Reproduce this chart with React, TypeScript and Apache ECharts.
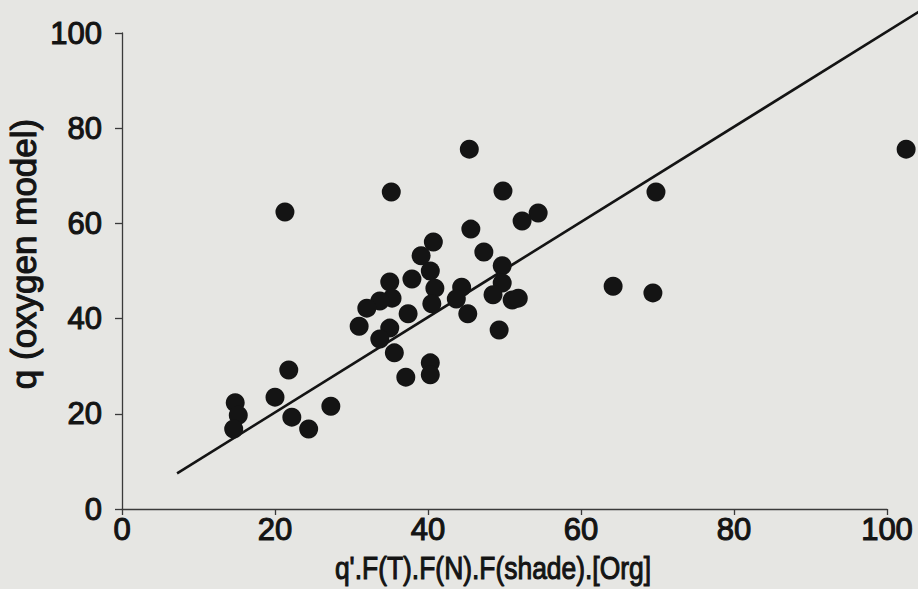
import React, { useEffect, useRef } from "react";
import * as echarts from "echarts";

// Observed points: x = q'.F(T).F(N).F(shade).[Org], y = q (oxygen model)
const xValues = [
  14.8, 15.2, 14.6, 20.0, 21.8, 22.2, 24.4, 27.3, 21.3, 45.4,
  35.2, 49.8, 54.4, 52.3, 45.6, 40.7, 47.3, 39.1, 49.7, 40.3,
  37.9, 35.0, 40.9, 44.4, 49.7, 35.3, 33.7, 32.0, 43.7, 48.5,
  40.5, 51.0, 51.8, 37.4, 45.2, 31.0, 35.0, 33.7, 49.3, 35.6,
  40.3, 40.3, 37.1, 64.2, 69.8, 69.4, 102.5,
];
const yValues = [
  22.3, 19.7, 16.8, 23.5, 29.2, 19.3, 16.8, 21.6, 62.4, 75.6,
  66.6, 66.8, 62.2, 60.5, 58.8, 56.1, 54.0, 53.2, 51.1, 50.0,
  48.3, 47.7, 46.4, 46.6, 47.5, 44.3, 43.7, 42.2, 44.1, 45.0,
  43.1, 43.9, 44.3, 41.0, 41.0, 38.4, 38.0, 35.7, 37.6, 32.8,
  30.7, 28.2, 27.7, 46.8, 66.6, 45.4, 75.6,
];

// Fitted line endpoints
const lineX = [7.2, 104.8];
const lineY = [7.5, 105.1];

const xTicks = [0, 20, 40, 60, 80, 100];
const yTicks = [0, 20, 40, 60, 80, 100];

const xTitle = "q'.F(T).F(N).F(shade).[Org]";
const yTitle = "q (oxygen model)";

export default function App() {
  const ref = useRef<HTMLDivElement>(null);

  useEffect(() => {
    document.body.style.margin = "0";
    document.body.style.background = "#e6e6e3";
    if (!ref.current) return;
    const chart = echarts.init(ref.current, undefined, { renderer: "svg" });

    const points = xValues.map((x, i) => [x, yValues[i]]);
    const ink = "#141414";
    const axisColor = "#3a3a3a";
    const font = "Liberation Sans, Arial, Helvetica, sans-serif";

    const labelStyle = {
      color: ink,
      fontSize: 31,
      fontFamily: font,
      textBorderColor: ink,
      textBorderWidth: 1.1,
    };

    chart.setOption({
      animation: false,
      backgroundColor: "#e6e6e3",
      grid: { left: 122, right: 31, top: 33, bottom: 80, containLabel: false },
      xAxis: {
        type: "value",
        min: xTicks[0],
        max: xTicks[xTicks.length - 1],
        interval: 20,
        axisLine: { show: true, onZero: false, lineStyle: { color: axisColor, width: 1.3 } },
        axisTick: { show: true, length: 6, inside: false, lineStyle: { color: axisColor, width: 1.3 } },
        splitLine: { show: false },
        axisLabel: { margin: 5, ...labelStyle },
      },
      yAxis: {
        type: "value",
        min: yTicks[0],
        max: yTicks[yTicks.length - 1],
        interval: 20,
        axisLine: { show: true, onZero: false, lineStyle: { color: axisColor, width: 1.3 } },
        axisTick: { show: true, length: 7, inside: false, lineStyle: { color: axisColor, width: 1.3 } },
        splitLine: { show: false },
        axisLabel: { margin: 20, ...labelStyle },
      },
      graphic: [
        {
          type: "text",
          x: 493,
          y: 568,
          scaleX: 0.826,
          style: {
            text: xTitle,
            fill: ink,
            stroke: ink,
            lineWidth: 1.1,
            fontSize: 32,
            fontFamily: font,
            align: "center",
            verticalAlign: "middle",
          },
        },
        {
          type: "text",
          x: 23,
          y: 254,
          rotation: Math.PI / 2,
          style: {
            text: yTitle,
            fill: ink,
            stroke: ink,
            lineWidth: 1.1,
            fontSize: 35,
            fontFamily: font,
            align: "center",
            verticalAlign: "middle",
          },
        },
      ],
      series: [
        {
          type: "custom",
          data: [[lineX[0], lineY[0], lineX[1], lineY[1]]],
          encode: { x: [0, 2], y: [1, 3] },
          clip: false,
          z: 2,
          renderItem: (_params: any, api: any) => {
            const p1 = api.coord([api.value(0), api.value(1)]);
            const p2 = api.coord([api.value(2), api.value(3)]);
            return {
              type: "line",
              shape: { x1: p1[0], y1: p1[1], x2: p2[0], y2: p2[1] },
              style: { stroke: ink, lineWidth: 2.6, fill: null },
            };
          },
        },
        {
          type: "scatter",
          data: points,
          symbol: "circle",
          symbolSize: 19,
          clip: false,
          itemStyle: { color: ink, opacity: 1 },
          z: 3,
        },
      ],
    });

    return () => chart.dispose();
  }, []);

  return <div ref={ref} style={{ width: 918, height: 589 }} />;
}
